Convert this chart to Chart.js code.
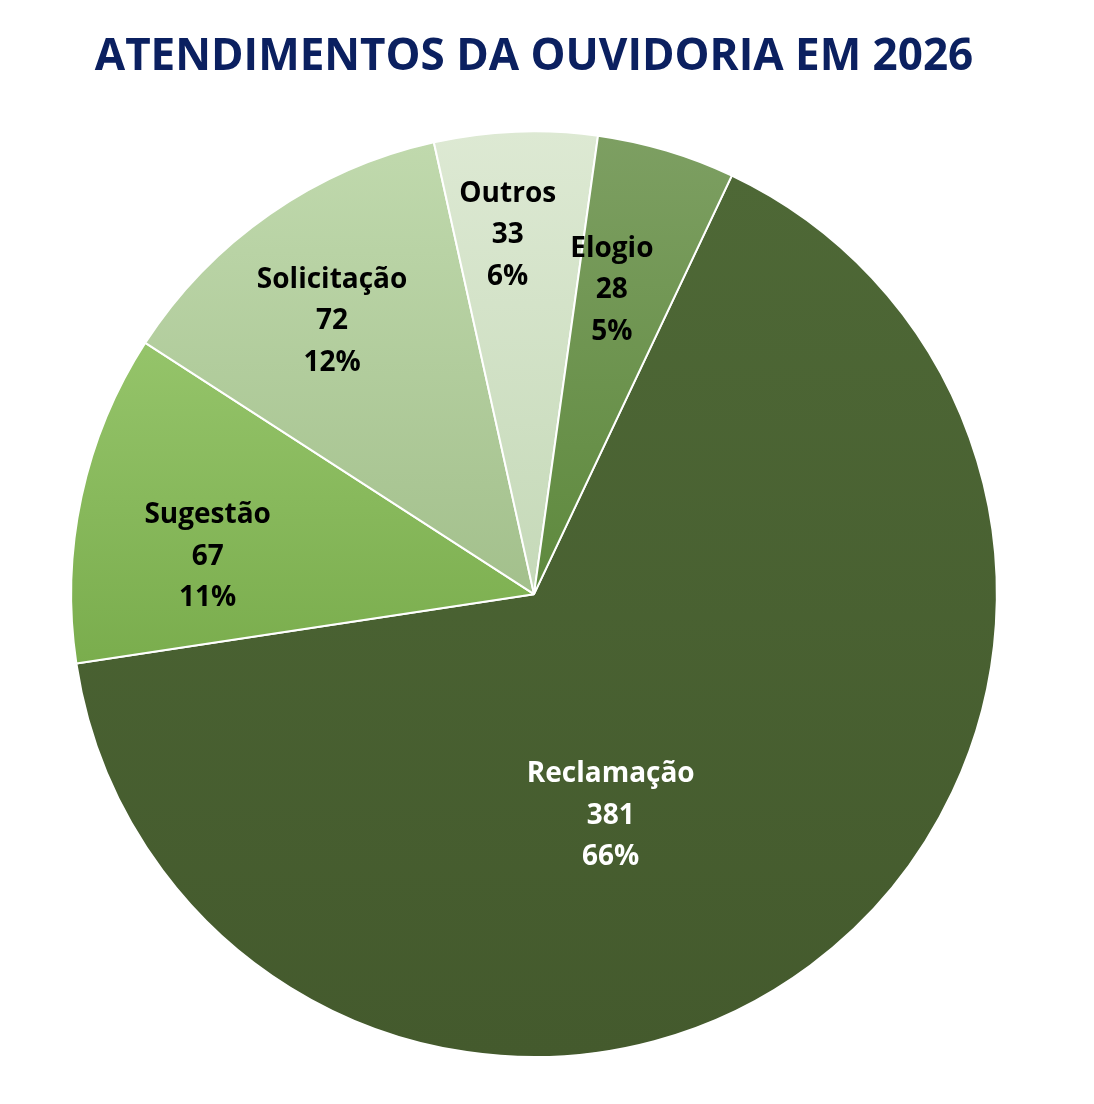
<!DOCTYPE html>
<html>
<head>
<meta charset="utf-8">
<script src="https://cdn.jsdelivr.net/npm/chart.js@4.4.1/dist/chart.umd.min.js"></script>
<style>
  html, body { margin: 0; padding: 0; background: #fff; }
  #wrap { width: 1094px; height: 1104px; }
</style>
</head>
<body>
<div id="wrap"><canvas id="pie"></canvas></div>
<script>
// Data
const categories = ['Reclamação', 'Sugestão', 'Solicitação', 'Outros', 'Elogio'];
const counts = [381, 67, 72, 33, 28];
const percents = [66, 11, 12, 6, 5];

// Fill: top / bottom colour of each slice's vertical gradient
const topColors = ['#4e6836', '#95c46a', '#c0d9ad', '#dde9d3', '#7d9f62'];
const bottomColors = ['#445a2d', '#7aad4d', '#a3c08c', '#c5d9b8', '#5e893d'];
const labelColors = ['#ffffff', '#000000', '#000000', '#000000', '#000000'];
// label placement: [radius fraction, angle shift in degrees from slice middle]
const labelPlace = [[0.505, 17.5], [0.71, -5.4], [0.735, -1.6], [0.78, -1.9], [0.68, -2.3]];

// Vertical gradient per slice, sized to the slice's own height
const sliceGradient = {
    id: 'sliceGradient',
    beforeDatasetsDraw(chart) {
        const ctx = chart.ctx;
        chart.getDatasetMeta(0).data.forEach((arc, i) => {
            const p = arc.getProps(['x', 'y', 'startAngle', 'endAngle', 'outerRadius']);
            let minY = p.y, maxY = p.y;
            for (let k = 0; k <= 60; k++) {
                const a = p.startAngle + (p.endAngle - p.startAngle) * k / 60;
                const y = p.y + p.outerRadius * Math.sin(a);
                minY = Math.min(minY, y);
                maxY = Math.max(maxY, y);
            }
            const g = ctx.createLinearGradient(0, minY, 0, maxY);
            g.addColorStop(0, topColors[i]);
            g.addColorStop(1, bottomColors[i]);
            arc.options.backgroundColor = g;
        });
    }
};

// Three-line labels: name, count, percent
const sliceLabels = {
    id: 'sliceLabels',
    afterDatasetsDraw(chart) {
        const ctx = chart.ctx;
        ctx.save();
        ctx.font = 'bold 28px "Open Sans", sans-serif';
        ctx.textAlign = 'center';
        ctx.textBaseline = 'middle';
        chart.getDatasetMeta(0).data.forEach((arc, i) => {
            const p = arc.getProps(['x', 'y', 'startAngle', 'endAngle', 'outerRadius']);
            const a = (p.startAngle + p.endAngle) / 2 + labelPlace[i][1] * Math.PI / 180;
            const r = p.outerRadius * labelPlace[i][0];
            const x = p.x + r * Math.cos(a);
            const y = p.y + r * Math.sin(a);
            ctx.fillStyle = labelColors[i];
            const lines = [categories[i], String(counts[i]), percents[i] + '%'];
            lines.forEach((t, j) => ctx.fillText(t, x, y + 1 + (j - 1) * 41.5));
        });
        ctx.restore();
    }
};

new Chart(document.getElementById('pie'), {
    type: 'pie',
    data: {
        labels: categories,
        datasets: [{
            data: counts,
            backgroundColor: topColors,
            borderColor: '#ffffff',
            borderWidth: 2
        }]
    },
    options: {
        responsive: true,
        maintainAspectRatio: false,
        animation: false,
        rotation: 25.3,
        layout: { padding: { left: 69, right: 95, top: 0, bottom: 46 } },
        plugins: {
            legend: { display: false },
            tooltip: { enabled: false },
            title: {
                display: true,
                text: 'ATENDIMENTOS DA OUVIDORIA EM 2026',
                color: '#0b2060',
                font: { family: '"Open Sans", sans-serif', size: 44, weight: 'bold', lineHeight: 1.2 },
                padding: { top: 31, bottom: 46.5 }
            }
        }
    },
    plugins: [sliceGradient, sliceLabels]
});
</script>
</body>
</html>
